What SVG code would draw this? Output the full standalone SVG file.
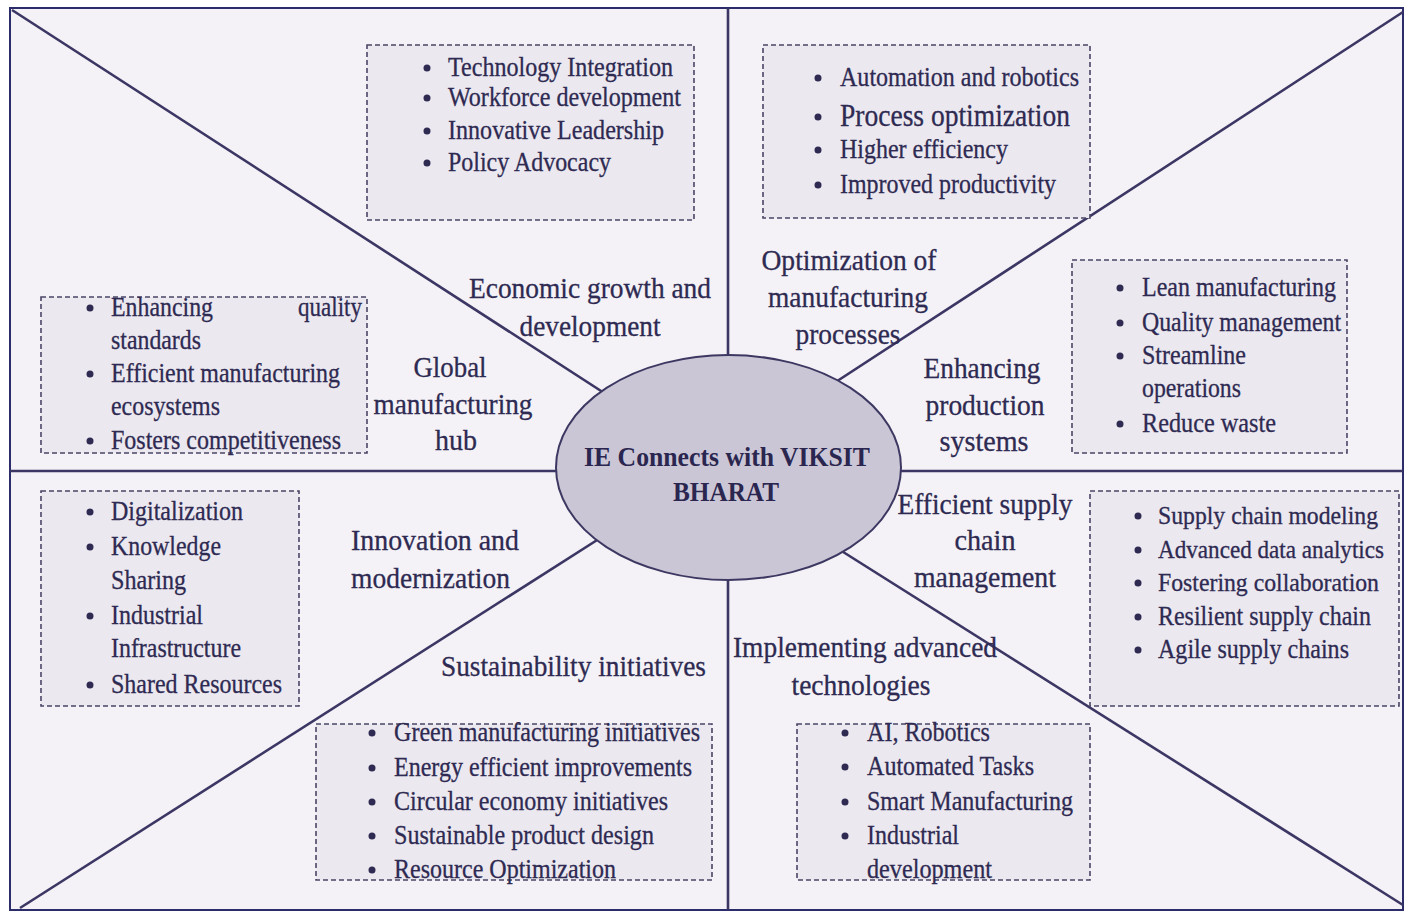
<svg xmlns="http://www.w3.org/2000/svg" width="1405" height="911" viewBox="0 0 1405 911">
<style>
.t{font-family:"Liberation Serif","Times New Roman",serif;font-size:27.5px;fill:#2e2a52;stroke:#2e2a52;stroke-width:0.3}
.s{font-size:24.5px}
.l{font-family:"Liberation Serif","Times New Roman",serif;font-size:29px;fill:#2e2a52;stroke:#2e2a52;stroke-width:0.3}
.c{font-family:"Liberation Serif","Times New Roman",serif;font-size:27px;font-weight:bold;fill:#2a2650}
.box{fill:#ebe8ef;stroke:#4a4566;stroke-width:1.6;stroke-dasharray:5 3}
.ln{stroke:#3b3663;stroke-width:2.6;fill:none}
.b{fill:#2e2a52}
</style>
<rect x="0" y="0" width="1405" height="911" fill="#ffffff"/>
<rect x="10" y="8" width="1393" height="902" fill="#f4f2f6" stroke="#2c2c6a" stroke-width="2"/>
<g id="connectors">
<line class="ln" x1="728" y1="8" x2="728" y2="400"/>
<line class="ln" x1="728" y1="540" x2="728" y2="910"/>
<line class="ln" x1="10" y1="471" x2="600" y2="471"/>
<line class="ln" x1="860" y1="471" x2="1403" y2="471"/>
<line class="ln" x1="12" y1="10" x2="615" y2="400"/>
<line class="ln" x1="1403" y1="12" x2="825" y2="389"/>
<line class="ln" x1="20" y1="908" x2="605" y2="535"/>
<line class="ln" x1="1403" y1="905" x2="840" y2="550"/>
</g>
<g id="center">
<ellipse cx="728.5" cy="467.5" rx="172.5" ry="112.5" fill="#cbc6d6" stroke="#3d3862" stroke-width="2"/>
<text class="c" x="727" y="466" text-anchor="middle" textLength="286" lengthAdjust="spacingAndGlyphs">IE Connects with VIKSIT</text>
<text class="c" x="726" y="501" text-anchor="middle" textLength="106" lengthAdjust="spacingAndGlyphs">BHARAT</text>
</g>
<g id="box-economic">
<rect class="box" x="367" y="45" width="327" height="175"/>
<circle class="b" cx="427" cy="68" r="3.5"/><text class="t" x="448" y="76" textLength="225" lengthAdjust="spacingAndGlyphs">Technology Integration</text>
<circle class="b" cx="427" cy="98" r="3.5"/><text class="t" x="448" y="106" textLength="233" lengthAdjust="spacingAndGlyphs">Workforce development</text>
<circle class="b" cx="427" cy="131" r="3.5"/><text class="t" x="448" y="139" textLength="216" lengthAdjust="spacingAndGlyphs">Innovative Leadership</text>
<circle class="b" cx="427" cy="163" r="3.5"/><text class="t" x="448" y="171" textLength="163" lengthAdjust="spacingAndGlyphs">Policy Advocacy</text>
</g>
<g id="box-optimization">
<rect class="box" x="763" y="45" width="327" height="173"/>
<circle class="b" cx="818" cy="78" r="3.5"/><text class="t" x="840" y="86" textLength="239" lengthAdjust="spacingAndGlyphs">Automation and robotics</text>
<circle class="b" cx="818" cy="117" r="3.5"/><text class="t" x="840" y="126" style="font-size:31px" textLength="230" lengthAdjust="spacingAndGlyphs">Process optimization</text>
<circle class="b" cx="818" cy="150" r="3.5"/><text class="t" x="840" y="158" textLength="168" lengthAdjust="spacingAndGlyphs">Higher efficiency</text>
<circle class="b" cx="818" cy="185" r="3.5"/><text class="t" x="840" y="193" textLength="216" lengthAdjust="spacingAndGlyphs">Improved productivity</text>
</g>
<g id="box-production">
<rect class="box" x="1072" y="260" width="275" height="193"/>
<circle class="b" cx="1120" cy="288" r="3.5"/><text class="t" x="1142" y="296" textLength="194" lengthAdjust="spacingAndGlyphs">Lean manufacturing</text>
<circle class="b" cx="1120" cy="323" r="3.5"/><text class="t" x="1142" y="331" textLength="199" lengthAdjust="spacingAndGlyphs">Quality management</text>
<circle class="b" cx="1120" cy="356" r="3.5"/><text class="t" x="1142" y="364" textLength="104" lengthAdjust="spacingAndGlyphs">Streamline</text>
<text class="t" x="1142" y="397" textLength="99" lengthAdjust="spacingAndGlyphs">operations</text>
<circle class="b" cx="1120" cy="424" r="3.5"/><text class="t" x="1142" y="432" textLength="134" lengthAdjust="spacingAndGlyphs">Reduce waste</text>
</g>
<g id="box-global">
<rect class="box" x="41" y="297" width="326" height="156"/>
<circle class="b" cx="90" cy="308" r="3.5"/><text class="t" x="111" y="316" textLength="102" lengthAdjust="spacingAndGlyphs">Enhancing</text><text class="t" x="298" y="316" textLength="64" lengthAdjust="spacingAndGlyphs">quality</text>
<text class="t" x="111" y="349" textLength="90" lengthAdjust="spacingAndGlyphs">standards</text>
<circle class="b" cx="90" cy="374" r="3.5"/><text class="t" x="111" y="382" textLength="229" lengthAdjust="spacingAndGlyphs">Efficient manufacturing</text>
<text class="t" x="111" y="415" textLength="109" lengthAdjust="spacingAndGlyphs">ecosystems</text>
<circle class="b" cx="90" cy="441" r="3.5"/><text class="t" x="111" y="449" textLength="230" lengthAdjust="spacingAndGlyphs">Fosters competitiveness</text>
</g>
<g id="box-innovation">
<rect class="box" x="41" y="491" width="258" height="215"/>
<circle class="b" cx="90" cy="512" r="3.5"/><text class="t" x="111" y="520" textLength="132" lengthAdjust="spacingAndGlyphs">Digitalization</text>
<circle class="b" cx="90" cy="547" r="3.5"/><text class="t" x="111" y="555" textLength="110" lengthAdjust="spacingAndGlyphs">Knowledge</text>
<text class="t" x="111" y="589" textLength="75" lengthAdjust="spacingAndGlyphs">Sharing</text>
<circle class="b" cx="90" cy="616" r="3.5"/><text class="t" x="111" y="624" textLength="92" lengthAdjust="spacingAndGlyphs">Industrial</text>
<text class="t" x="111" y="657" textLength="130" lengthAdjust="spacingAndGlyphs">Infrastructure</text>
<circle class="b" cx="90" cy="685" r="3.5"/><text class="t" x="111" y="693" textLength="171" lengthAdjust="spacingAndGlyphs">Shared Resources</text>
</g>
<g id="box-supply">
<rect class="box" x="1090" y="491" width="309" height="215"/>
<circle class="b" cx="1138" cy="516" r="3.5"/><text class="t s" x="1158" y="524" textLength="220" lengthAdjust="spacingAndGlyphs">Supply chain modeling</text>
<circle class="b" cx="1138" cy="550" r="3.5"/><text class="t s" x="1158" y="558" textLength="226" lengthAdjust="spacingAndGlyphs">Advanced data analytics</text>
<circle class="b" cx="1138" cy="583" r="3.5"/><text class="t s" x="1158" y="591" textLength="221" lengthAdjust="spacingAndGlyphs">Fostering collaboration</text>
<circle class="b" cx="1138" cy="617" r="3.5"/><text class="t" x="1158" y="625" textLength="213" lengthAdjust="spacingAndGlyphs">Resilient supply chain</text>
<circle class="b" cx="1138" cy="650" r="3.5"/><text class="t" x="1158" y="658" textLength="191" lengthAdjust="spacingAndGlyphs">Agile supply chains</text>
</g>
<g id="box-sustainability">
<rect class="box" x="316" y="724" width="396" height="156"/>
<circle class="b" cx="372" cy="733" r="3.5"/><text class="t" x="394" y="741" textLength="306" lengthAdjust="spacingAndGlyphs">Green manufacturing initiatives</text>
<circle class="b" cx="372" cy="768" r="3.5"/><text class="t" x="394" y="776" textLength="298" lengthAdjust="spacingAndGlyphs">Energy efficient improvements</text>
<circle class="b" cx="372" cy="802" r="3.5"/><text class="t" x="394" y="810" textLength="274" lengthAdjust="spacingAndGlyphs">Circular economy initiatives</text>
<circle class="b" cx="372" cy="836" r="3.5"/><text class="t" x="394" y="844" textLength="260" lengthAdjust="spacingAndGlyphs">Sustainable product design</text>
<circle class="b" cx="372" cy="870" r="3.5"/><text class="t" x="394" y="878" textLength="222" lengthAdjust="spacingAndGlyphs">Resource Optimization</text>
</g>
<g id="box-technologies">
<rect class="box" x="797" y="724" width="293" height="156"/>
<circle class="b" cx="845" cy="733" r="3.5"/><text class="t" x="867" y="741" textLength="123" lengthAdjust="spacingAndGlyphs">AI, Robotics</text>
<circle class="b" cx="845" cy="767" r="3.5"/><text class="t" x="867" y="775" textLength="167" lengthAdjust="spacingAndGlyphs">Automated Tasks</text>
<circle class="b" cx="845" cy="802" r="3.5"/><text class="t" x="867" y="810" textLength="206" lengthAdjust="spacingAndGlyphs">Smart Manufacturing</text>
<circle class="b" cx="845" cy="836" r="3.5"/><text class="t" x="867" y="844" textLength="92" lengthAdjust="spacingAndGlyphs">Industrial</text>
<text class="t" x="867" y="878" textLength="125" lengthAdjust="spacingAndGlyphs">development</text>
</g>
<g id="label-economic">
<text class="l" x="590" y="298" text-anchor="middle" textLength="242" lengthAdjust="spacingAndGlyphs">Economic growth and</text>
<text class="l" x="590" y="336" text-anchor="middle" textLength="141" lengthAdjust="spacingAndGlyphs">development</text>
</g>
<g id="label-global">
<text class="l" x="450" y="377" text-anchor="middle" textLength="73" lengthAdjust="spacingAndGlyphs">Global</text>
<text class="l" x="453" y="414" text-anchor="middle" textLength="159" lengthAdjust="spacingAndGlyphs">manufacturing</text>
<text class="l" x="456" y="450" text-anchor="middle" textLength="42" lengthAdjust="spacingAndGlyphs">hub</text>
</g>
<g id="label-optimization">
<text class="l" x="849" y="270" text-anchor="middle" textLength="175" lengthAdjust="spacingAndGlyphs">Optimization of</text>
<text class="l" x="848" y="307" text-anchor="middle" textLength="160" lengthAdjust="spacingAndGlyphs">manufacturing</text>
<text class="l" x="848" y="344" text-anchor="middle" textLength="105" lengthAdjust="spacingAndGlyphs">processes</text>
</g>
<g id="label-production">
<text class="l" x="982" y="378" text-anchor="middle" textLength="117" lengthAdjust="spacingAndGlyphs">Enhancing</text>
<text class="l" x="985" y="415" text-anchor="middle" textLength="119" lengthAdjust="spacingAndGlyphs">production</text>
<text class="l" x="984" y="451" text-anchor="middle" textLength="89" lengthAdjust="spacingAndGlyphs">systems</text>
</g>
<g id="label-supply">
<text class="l" x="985" y="514" text-anchor="middle" textLength="175" lengthAdjust="spacingAndGlyphs">Efficient supply</text>
<text class="l" x="985" y="550" text-anchor="middle" textLength="61" lengthAdjust="spacingAndGlyphs">chain</text>
<text class="l" x="985" y="587" text-anchor="middle" textLength="142" lengthAdjust="spacingAndGlyphs">management</text>
</g>
<g id="label-innovation">
<text class="l" x="351" y="550" textLength="168" lengthAdjust="spacingAndGlyphs">Innovation and</text>
<text class="l" x="351" y="588" textLength="159" lengthAdjust="spacingAndGlyphs">modernization</text>
</g>
<g id="label-sustainability">
<text class="l" x="441" y="676" textLength="265" lengthAdjust="spacingAndGlyphs">Sustainability initiatives</text>
</g>
<g id="label-technologies">
<text class="l" x="865" y="657" text-anchor="middle" textLength="264" lengthAdjust="spacingAndGlyphs">Implementing advanced</text>
<text class="l" x="861" y="695" text-anchor="middle" textLength="139" lengthAdjust="spacingAndGlyphs">technologies</text>
</g>
</svg>
